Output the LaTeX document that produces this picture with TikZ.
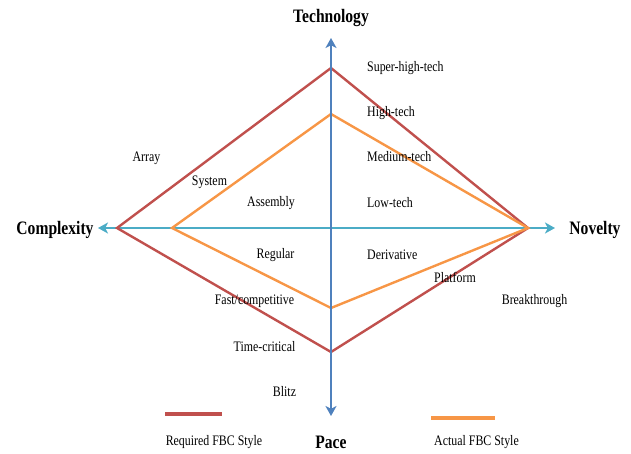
\documentclass[tikz,border=0pt]{standalone}
\usepackage{fontspec}
\setmainfont{Liberation Serif}[FakeStretch=0.82]
\usepackage{xcolor}
\usepackage{tikz}
\usetikzlibrary{arrows.meta,positioning,calc}
\definecolor{cReq}{HTML}{C0504D}
\definecolor{cAct}{HTML}{F79646}
\definecolor{cVert}{HTML}{4F81BD}
\definecolor{cHorz}{HTML}{4BACC6}
\definecolor{cInk}{HTML}{000000}
\tikzset{
  axis/.style    = {line width=2.6pt, >={Stealth[length=10pt,width=11pt,inset=2.8pt]}, <->},
  vaxis/.style   = {axis, draw=cVert},
  haxis/.style   = {axis, draw=cHorz},
  req/.style     = {draw=cReq, line width=2.4pt, line join=miter},
  act/.style     = {draw=cAct, line width=2.4pt, line join=miter},
  title/.style   = {font=\fontsize{19}{22}\selectfont\bfseries, text=cInk, inner sep=0pt},
  tick/.style    = {font=\fontsize{14.5}{17}\selectfont, text=cInk, inner sep=0pt},
  legline/.style = {line width=3.6pt},
}

\begin{document}
\begin{tikzpicture}[x=1pt, y=-1pt]
  \useasboundingbox (0,0) rectangle (631,453);
  % axis end points
  \coordinate (top) at (331,38);
  \coordinate (bot) at (331,416);
  \coordinate (lft) at (98,228);
  \coordinate (rgt) at (555,228);
  % required style corners
  \coordinate (rT) at (331,68);
  \coordinate (rR) at (528,228);
  \coordinate (rB) at (331,352);
  \coordinate (rL) at (117,228);
  % actual style corners
  \coordinate (aT) at (331,114);
  \coordinate (aB) at (331,308);
  \coordinate (aL) at (172,228);
  % horizontal axis under the diamonds
  \draw[haxis] (lft) -- (rgt);
  % the two diamonds
  \draw[req] (rT) -- (rR) -- (rB) -- (rL) -- cycle;
  \draw[act] (aT) -- (rR) -- (aB) -- (aL) -- cycle;
  % vertical axis on top
  \draw[vaxis] (bot) -- (top);
  % axis titles
  \node[title] (tech) at (331,18) {Technology};
  \node[title] (pace) at (331,442) {Pace};
  \node[title] (cplx) at (55,230) {Complexity};
  \node[title] (nov)  at (595,230) {Novelty};
  % technology scale
  \node[tick, anchor=west] (sht) at (367,68)  {Super-high-tech};
  \node[tick, anchor=west] (ht)  at (367,113) {High-tech};
  \node[tick, anchor=west] (mt)  at (367,157) {Medium-tech};
  \node[tick, anchor=west] (lt)  at (367,203) {Low-tech};
  % novelty scale
  \node[tick, anchor=west] (der) at (367,255) {Derivative};
  \node[tick] (plat)  at (455,277) {Platform};
  \node[tick] (brk)   at (534.5,301) {Breakthrough};
  % complexity scale
  \node[tick] (arr)   at (146.5,158) {Array};
  \node[tick] (sys)   at (209.5,182) {System};
  \node[tick] (asm)   at (271,203) {Assembly};
  % pace scale
  \node[tick] (reg)   at (275.5,255) {Regular};
  \node[tick] (fast)  at (254.5,301) {Fast/competitive};
  \node[tick] (tcrit) at (264.5,347) {Time-critical};
  \node[tick] (blitz) at (284.5,392) {Blitz};
  % legend
  \coordinate (lr1) at (165,414);
  \coordinate (lr2) at (222,414);
  \coordinate (la1) at (431,418);
  \coordinate (la2) at (495,418);
  \draw[legline, draw=cReq] (lr1) -- (lr2);
  \draw[legline, draw=cAct] (la1) -- (la2);
  \node[tick] (lreq) at (214,442) {Required FBC Style};
  \node[tick] (lact) at (476.5,442) {Actual FBC Style};
\end{tikzpicture}
\end{document}
